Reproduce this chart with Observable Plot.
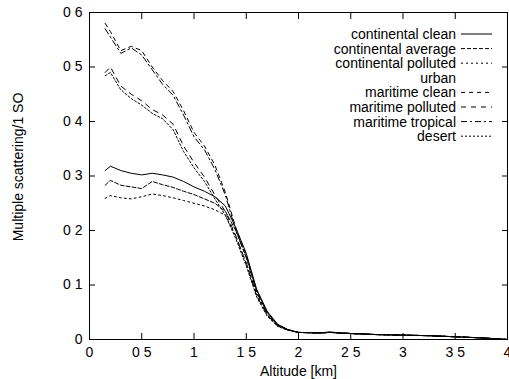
<!DOCTYPE html>
<html><head><meta charset="utf-8">
<script src="https://cdn.jsdelivr.net/npm/d3@7"></script>
<script src="https://cdn.jsdelivr.net/npm/@observablehq/plot@0.6"></script>
<style>
body{margin:0;background:#fff}
#chart{position:relative;width:509px;height:379px}
</style>
</head><body><div id="chart"></div>
<script>
// ---------------- data ----------------
const altitude = [0.15,0.2,0.3,0.4,0.5,0.6,0.7,0.8,0.9,1.0,1.1,1.2,1.3,1.4,1.5,1.6,1.7,1.8,1.9,2.0,2.2,2.3,2.4,2.5,2.75,3.0,3.25,3.5,3.75,4.0];
const continentalClean     = [0.310,0.318,0.310,0.305,0.302,0.305,0.302,0.298,0.290,0.280,0.272,0.262,0.245,0.205,0.158,0.092,0.052,0.028,0.018,0.013,0.012,0.014,0.012,0.011,0.009,0.008,0.007,0.005,0.003,0.000];
const continentalAverage   = [0.283,0.292,0.283,0.280,0.277,0.290,0.284,0.279,0.272,0.266,0.258,0.250,0.235,0.200,0.152,0.090,0.050,0.027,0.018,0.013,0.012,0.013,0.012,0.011,0.009,0.008,0.007,0.005,0.003,0.000];
const continentalPolluted  = [0.259,0.264,0.260,0.258,0.262,0.267,0.264,0.260,0.255,0.250,0.245,0.238,0.228,0.190,0.140,0.082,0.046,0.025,0.017,0.013,0.012,0.013,0.012,0.011,0.009,0.008,0.007,0.005,0.003,0.000];
const maritimeClean        = [0.580,0.565,0.530,0.538,0.530,0.500,0.475,0.455,0.420,0.380,0.355,0.320,0.270,0.205,0.155,0.088,0.050,0.027,0.018,0.013,0.012,0.013,0.012,0.011,0.009,0.008,0.007,0.005,0.003,0.000];
const maritimePolluted     = [0.490,0.500,0.465,0.450,0.438,0.422,0.412,0.395,0.355,0.325,0.298,0.265,0.235,0.190,0.140,0.080,0.045,0.025,0.017,0.013,0.012,0.013,0.012,0.011,0.009,0.008,0.007,0.005,0.003,0.000];
const maritimeTropical     = [0.570,0.555,0.525,0.535,0.522,0.495,0.468,0.448,0.412,0.372,0.348,0.312,0.265,0.200,0.150,0.086,0.048,0.026,0.018,0.013,0.012,0.013,0.012,0.011,0.009,0.008,0.007,0.005,0.003,0.000];
const desert               = [0.484,0.490,0.458,0.442,0.430,0.415,0.405,0.385,0.345,0.315,0.290,0.258,0.228,0.185,0.135,0.078,0.043,0.024,0.017,0.013,0.012,0.013,0.012,0.011,0.009,0.008,0.007,0.005,0.003,0.000];

const seriesNames = ["continental clean","continental average","continental polluted","urban","maritime clean","maritime polluted","maritime tropical","desert"];
const seriesValues = [continentalClean,continentalAverage,continentalPolluted,null,maritimeClean,maritimePolluted,maritimeTropical,desert];

const xTicks = [0,0.5,1,1.5,2,2.5,3,3.5,4];
const xTickLabels = ["0","0 5","1","1 5","2","2 5","3","3 5","4"];
const yTicks = [0,0.1,0.2,0.3,0.4,0.5,0.6];
const yTickLabels = ["0","0 1","0 2","0 3","0 4","0 5","0 6"];
const xTitle = "Altitude [km]";
const yTitle = "Multiple scattering/1 SO";

// ---------------- styles ----------------
const dashes = [null,"4,2","2,3",null,"4,4","5,5","6,3,2,3","2,2"];
const FONT = "'Liberation Sans', Arial, sans-serif";

// ---------------- build ----------------
const rows = [];
seriesNames.forEach((name, s) => {
  const v = seriesValues[s];
  if (!v) return;
  altitude.forEach((a, i) => rows.push({series: name, altitude: a, value: v[i]}));
});

const lineMarks = seriesNames.map((name, s) => seriesValues[s] ? Plot.line(rows.filter(r => r.series === name), {
  x: "altitude", y: "value", stroke: "black", strokeWidth: 1,
  strokeDasharray: dashes[s] || undefined
}) : null).filter(Boolean);

const xFmt = d => xTickLabels[xTicks.indexOf(d)];
const yFmt = d => yTickLabels[yTicks.findIndex(t => Math.abs(t - d) < 1e-9)];

const chart = Plot.plot({
  width: 509, height: 379,
  marginLeft: 89, marginRight: 2, marginTop: 12, marginBottom: 40,
  style: {fontFamily: FONT, fontSize: "14px", color: "black", background: "white", overflow: "visible"},
  x: {domain: [0, 4]},
  y: {domain: [0, 0.6]},
  marks: [
    ...lineMarks,
    Plot.frame({stroke: "black", strokeWidth: 1}),
    Plot.axisX(xTicks, {anchor: "bottom", tickSize: -6, tickFormat: () => "", label: null}),
    Plot.axisX(xTicks, {anchor: "top", tickSize: -6, tickFormat: () => "", label: null}),
    Plot.axisX(xTicks, {anchor: "bottom", tickSize: 0, tickPadding: 8, tickFormat: xFmt,
      label: xTitle, labelAnchor: "center", labelOffset: 36, labelArrow: "none", fontSize: 14}),
    Plot.axisY(yTicks, {anchor: "left", tickSize: -6, tickFormat: () => "", label: null}),
    Plot.axisY(yTicks, {anchor: "right", tickSize: -6, tickFormat: () => "", label: null}),
    Plot.axisY(yTicks, {anchor: "left", tickSize: 0, tickPadding: 7, tickFormat: yFmt, label: null, fontSize: 14})
  ]
});
document.getElementById("chart").appendChild(chart);

const svg = d3.select(chart);
// y-axis title
svg.append("text")
  .attr("transform", "translate(18,167) rotate(-90)")
  .attr("text-anchor", "middle").attr("dy", "0.35em")
  .attr("font-family", FONT).attr("font-size", 14).attr("fill", "black")
  .text(yTitle);

// ---------------- legend ----------------
const lg = svg.append("g").attr("font-family", FONT).attr("font-size", 14);
seriesNames.forEach((name, i) => {
  const y = 34 + i * 14.6;
  lg.append("text").attr("x", 456).attr("y", y).attr("dy", "0.35em").attr("text-anchor", "end").attr("fill", "black").text(name);
  if (seriesValues[i]) {
    lg.append("line").attr("x1", 461).attr("x2", 492).attr("y1", y).attr("y2", y)
      .attr("stroke", "black").attr("stroke-width", 1)
      .attr("stroke-dasharray", dashes[i] || null);
  }
});
</script>
</body></html>
